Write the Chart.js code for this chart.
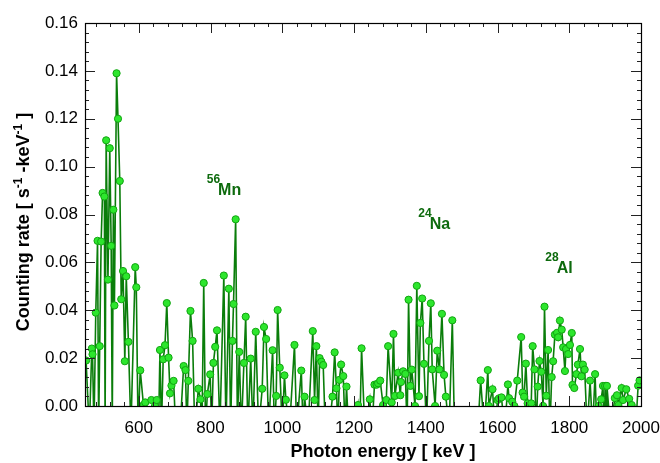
<!DOCTYPE html>
<html lang="en">
<head>
<meta charset="UTF-8">
<title>Photon spectrum</title>
<script src="https://cdn.jsdelivr.net/npm/chart.js"></script>
<style>
    body { margin: 0; background: #fff; }
    #box { width: 660px; height: 463px; }
</style>
</head>
<body>
<div id="box"><canvas id="myChart" width="660" height="463"></canvas></div>
<script>
    // energia dos canais (keV) e taxa de contagem; valores negativos ficam abaixo do eixo
    const energy = [453, 462, 469, 471, 475, 480, 485, 488, 491, 495, 499, 504, 506, 509, 514, 519, 523, 526, 529, 532,
        538, 542, 547, 551, 556, 561, 565, 571, 578, 590, 593, 598, 604, 613, 618, 635, 645, 650, 655, 659,
        663, 668, 673, 678, 683, 687, 691, 697, 703, 715, 725, 730, 734, 738, 744, 750, 756, 766, 772, 776,
        781, 786, 791, 799, 803, 808, 813, 818, 826, 837, 843, 851, 856, 861, 864, 870, 875, 880, 886, 893,
        898, 904, 912, 918, 926, 934, 944, 949, 955, 962, 973, 978, 983, 987, 993, 1000, 1006, 1010, 1020, 1034,
        1040, 1053, 1058, 1062, 1072, 1085, 1090, 1095, 1100, 1104, 1109, 1114, 1120, 1130, 1140, 1146, 1151, 1155, 1159, 1164,
        1170, 1175, 1179, 1185, 1200, 1211, 1216, 1221, 1230, 1244, 1250, 1257, 1263, 1267, 1273, 1281, 1290, 1295, 1305, 1310,
        1314, 1323, 1329, 1331, 1337, 1343, 1348, 1352, 1357, 1361, 1370, 1375, 1381, 1385, 1390, 1395, 1402, 1409, 1414, 1418,
        1426, 1432, 1438, 1445, 1451, 1456, 1465, 1474, 1480, 1545, 1553, 1563, 1573, 1576, 1586, 1593, 1600, 1604, 1611, 1620,
        1629, 1632, 1641, 1647, 1655, 1666, 1670, 1674, 1679, 1684, 1690, 1694, 1698, 1703, 1708, 1712, 1717, 1722, 1727, 1731,
        1736, 1741, 1746, 1751, 1755, 1760, 1766, 1769, 1774, 1779, 1783, 1788, 1791, 1797, 1802, 1807, 1809, 1814, 1820, 1824,
        1830, 1834, 1838, 1843, 1850, 1858, 1865, 1872, 1877, 1882, 1889, 1894, 1897, 1900, 1903, 1905, 1915, 1927, 1933, 1937,
        1946, 1950, 1959, 1967, 1974, 1985, 1992, 1996];

    const rate = [0.019, -0.01, 0.024, 0.0216, -0.01, 0.039, 0.069, -0.01, 0.025, 0.0687, 0.089, 0.0875, -0.01, 0.111, 0.0528, 0.1077, 0.0669, -0.01, 0.082, 0.042,
        0.139, 0.120, 0.094, 0.0446, 0.0564, 0.0187, 0.0542, 0.0268, -0.01, 0.058, 0.0496, -0.01, 0.0149, 0.0004, 0.0015, 0.0025, 0.0, 0.0025, -0.01, 0.0234,
        -0.01, 0.0195, 0.0254, 0.043, 0.0202, 0.0053, 0.0085, 0.0105, -0.01, -0.01, 0.0167, 0.015, -0.01, 0.0105, 0.0397, 0.0272, -0.01, 0.0072, 0.0028, -0.01,
        0.0514, -0.01, 0.005, 0.0132, -0.01, 0.018, 0.0247, 0.0316, -0.01, 0.0545, -0.01, 0.049, -0.01, 0.0272, 0.0426, 0.078, -0.01, 0.0226, -0.01, 0.018,
        0.0373, -0.01, 0.0198, -0.01, 0.031, -0.01, 0.0072, 0.033, 0.028, -0.01, 0.0233, -0.01, 0.0042, 0.0401, 0.016, -0.01, 0.0128, 0.0026, -0.01, 0.0255,
        -0.01, 0.0148, -0.01, 0.0039, -0.01, 0.0313, 0.0025, 0.025, -0.01, 0.02, 0.0185, 0.0171, -0.01, -0.01, 0.0039, 0.0224, 0.0074, -0.01, 0.0109, 0.0173,
        0.0125, -0.01, 0.0081, -0.01, -0.01, 0.0004, -0.01, 0.0241, -0.01, 0.0028, -0.01, 0.0089, 0.0089, 0.0095, 0.0106, 0.0004, 0.0025, 0.025, 0.0015, 0.0301,
        0.0042, 0.0139, 0.0045, 0.01, 0.0145, 0.0134, -0.01, 0.0444, 0.0084, 0.0152, 0.0, 0.0502, 0.0041, 0.0347, 0.0449, 0.0176, -0.01, 0.0272, 0.0429, 0.0153,
        0.0, 0.0231, 0.0153, 0.0385, 0.013, 0.0039, -0.01, 0.0358, -0.01, -0.01, 0.0107, -0.01, 0.015, 0.0, 0.007, -0.01, 0.0025, 0.0032, 0.0036, -0.01,
        0.009, 0.0033, 0.0018, 0.0, 0.0106, 0.0288, 0.0056, 0.0039, 0.0177, 0.0011, -0.01, 0.0011, 0.025, 0.0153, -0.01, 0.0081, 0.0188, 0.0143, 0.0, 0.0415,
        0.0043, 0.0234, -0.01, 0.0121, 0.0187, 0.0298, 0.0306, 0.0287, 0.0357, 0.0319, 0.0245, 0.0146, 0.0238, 0.0217, 0.0255, 0.0305, 0.0088, 0.0075, 0.0133, 0.0173,
        0.0238, 0.0124, 0.0173, 0.0152, -0.01, 0.0106, -0.01, 0.0133, -0.01, 0.0, 0.0028, 0.0084, -0.01, 0.0084, -0.01, 0.0084, -0.01, 0.0033, 0.0045, 0.0004,
        0.0075, 0.0025, 0.007, 0.003, 0.0004, -0.01, 0.0085, 0.0107];

    const xTicks = [600, 800, 1000, 1200, 1400, 1600, 1800, 2000];
    const yTicks = [0.00, 0.02, 0.04, 0.06, 0.08, 0.10, 0.12, 0.14, 0.16];

    // nuclídeos marcados no gráfico
    const isoMass = ['56', '24', '28'];
    const isoName = ['Mn', 'Na', 'Al'];
    const isoEnergy = [821, 1411, 1765];
    const isoRate = [0.0882, 0.0740, 0.0556];

    const FONTE = '"Liberation Sans", Arial, sans-serif';
    const VERDE_ESCURO = '#0d6a0d';

    const pontos = energy.map((e, i) => ({ x: e, y: rate[i] }));

    // moldura com ticks para dentro, rótulos dos nuclídeos e títulos dos eixos
    const moldura = {
        id: 'moldura',
        afterDatasetsDraw(chart) {
            const ctx = chart.ctx;
            const a = chart.chartArea;
            const sx = chart.scales.x;
            const sy = chart.scales.y;

            ctx.save();
            ctx.strokeStyle = '#222';
            ctx.lineWidth = 1;
            ctx.beginPath();
            // ticks eixo x
            for (let v = 480; v <= 2000; v += 40) {
                const px = Math.round(sx.getPixelForValue(v)) + 0.5;
                const len = (v % 200 === 0) ? 10 : 4;
                ctx.moveTo(px, a.bottom); ctx.lineTo(px, a.bottom - len);
                ctx.moveTo(px, a.top); ctx.lineTo(px, a.top + len);
            }
            // ticks eixo y
            for (let k = 0; k <= 40; k++) {
                const v = k * 0.004;
                const py = Math.round(sy.getPixelForValue(v)) + 0.5;
                const len = (k % 5 === 0) ? 10 : 4;
                ctx.moveTo(a.left, py); ctx.lineTo(a.left + len, py);
                ctx.moveTo(a.right, py); ctx.lineTo(a.right - len, py);
            }
            ctx.stroke();
            ctx.lineWidth = 1.2;
            ctx.strokeStyle = '#000';
            ctx.strokeRect(Math.round(a.left) + 0.5, Math.round(a.top) + 0.5, Math.round(a.right - a.left), Math.round(a.bottom - a.top));

            // nuclídeos
            ctx.fillStyle = VERDE_ESCURO;
            ctx.textBaseline = 'alphabetic';
            for (let i = 0; i < isoName.length; i++) {
                const px = sx.getPixelForValue(isoEnergy[i]);
                const py = sy.getPixelForValue(isoRate[i]);
                ctx.font = 'bold 16px ' + FONTE;
                ctx.textAlign = 'left';
                ctx.fillText(isoName[i], px, py);
                ctx.font = 'bold 12px ' + FONTE;
                ctx.textAlign = 'right';
                ctx.fillText(isoMass[i], px + 2, py - 12);
            }

            // título do eixo x
            ctx.fillStyle = '#000';
            ctx.font = 'bold 18px ' + FONTE;
            ctx.textAlign = 'center';
            ctx.textBaseline = 'middle';
            ctx.fillText('Photon energy [ keV ]', 383, 452);

            // título do eixo y com expoentes
            const partes = [
                ['Counting rate [ s', 18, 0],
                ['-1', 12, -7],
                [' -keV', 18, 0],
                ['-1', 12, -7],
                [' ]', 18, 0]
            ];
            ctx.textAlign = 'left';
            ctx.textBaseline = 'alphabetic';
            let total = 0;
            for (const p of partes) {
                ctx.font = 'bold ' + p[1] + 'px ' + FONTE;
                total += ctx.measureText(p[0]).width;
            }
            ctx.translate(29, 222);
            ctx.rotate(-Math.PI / 2);
            let x0 = -total / 2;
            for (const p of partes) {
                ctx.font = 'bold ' + p[1] + 'px ' + FONTE;
                ctx.fillText(p[0], x0, p[2]);
                x0 += ctx.measureText(p[0]).width;
            }
            ctx.restore();
        }
    };

    const config = {
        type: 'line',
        data: {
            datasets: [{
                data: pontos,
                borderColor: '#0a7d0a',
                borderWidth: 1.6,
                backgroundColor: '#2de62d',
                pointBackgroundColor: '#2de62d',
                pointBorderColor: '#11a511',
                pointBorderWidth: 1,
                pointRadius: 3.6,
                tension: 0,
                fill: false
            }]
        },
        options: {
            responsive: false,
            animation: false,
            events: [],
            layout: { padding: { top: 23, right: 19, left: 0, bottom: 0 } },
            plugins: { legend: { display: false }, tooltip: { enabled: false } },
            scales: {
                x: {
                    type: 'linear',
                    min: 450,
                    max: 2000,
                    grid: { display: false, drawTicks: false },
                    border: { display: false },
                    afterBuildTicks: (s) => { s.ticks = xTicks.map(v => ({ value: v })); },
                    afterFit: (s) => { s.height = 57; s.paddingLeft = 0; s.paddingRight = 0; },
                    ticks: {
                        padding: 12,
                        color: '#000',
                        font: { family: FONTE, size: 17 },
                        maxRotation: 0,
                        autoSkip: false,
                        callback: (v) => String(v)
                    }
                },
                y: {
                    min: 0,
                    max: 0.16,
                    grid: { display: false, drawTicks: false },
                    border: { display: false },
                    afterBuildTicks: (s) => { s.ticks = yTicks.map(v => ({ value: v })); },
                    afterFit: (s) => { s.width = 85; s.paddingTop = 0; s.paddingBottom = 0; },
                    ticks: {
                        padding: 7,
                        color: '#000',
                        font: { family: FONTE, size: 17 },
                        callback: (v) => Number(v).toFixed(2)
                    }
                }
            }
        },
        plugins: [moldura]
    };

    new Chart(document.getElementById('myChart'), config);
</script>
</body>
</html>
